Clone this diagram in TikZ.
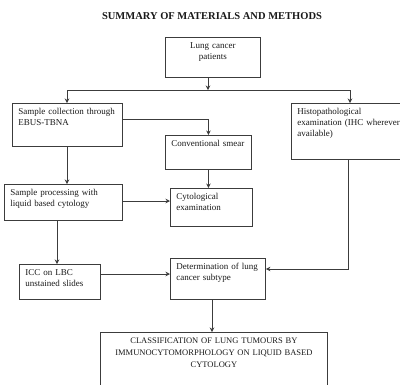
\documentclass[tikz,border=0pt]{standalone}
\usepackage{fontspec}
\setmainfont{Liberation Serif}
\usepackage{tikz}
\usetikzlibrary{arrows.meta,positioning}
\definecolor{boxgray}{RGB}{60,60,60}
\definecolor{inkblack}{RGB}{25,25,25}
\tikzset{
  stage/.style={draw=boxgray,line width=0.9pt,anchor=north west,
    align=left,inner xsep=6pt,inner ysep=5pt,text height=6.5pt,
    text=inkblack,font=\fontsize{9}{11}\selectfont},
  centred/.style={stage,align=center},
  flow/.style={-{Stealth[length=4.5pt,width=4.5pt]},line width=0.9pt,draw=boxgray},
  heading/.style={font=\fontsize{10.5}{12}\selectfont\bfseries,text=inkblack}
}

\begin{document}
\begin{tikzpicture}[x=1pt,y=-1pt]
  \useasboundingbox (0,0) rectangle (400,384);
  \clip (0,0) rectangle (400,384);

  \node[heading] (title) at (212,16) {SUMMARY OF MATERIALS AND METHODS};

  \node[centred,minimum width=95pt,text width=83pt,text depth=23.5pt]
    (lung) at (165,37) {Lung cancer\\patients};
  \node[stage,minimum width=110pt,text width=98pt,text depth=26.5pt]
    (coll) at (12,103) {Sample collection through\\EBUS-TBNA};
  \node[stage,minimum width=120pt,text width=108pt,text depth=39.5pt]
    (histo) at (291,103) {Histopathological\\examination (IHC wherever\\available)};
  \node[stage,minimum width=86pt,text width=74pt,text depth=17.5pt]
    (smear) at (165,135) {Conventional smear};
  \node[stage,minimum width=118pt,text width=106pt,text depth=19.5pt]
    (proc) at (4,184) {Sample processing with\\liquid based cytology};
  \node[stage,minimum width=82pt,text width=70pt,text depth=21.5pt]
    (cyto) at (170,188) {Cytological\\examination};
  \node[stage,minimum width=81pt,text width=69pt,text depth=18.5pt]
    (icc) at (19,264) {ICC on LBC\\unstained slides};
  \node[stage,minimum width=95pt,text width=83pt,text depth=24.5pt]
    (det) at (170,258) {Determination of lung\\cancer subtype};
  \node[centred,minimum width=227pt,text width=215pt,text depth=75pt,
    font=\fontsize{8.5}{12}\selectfont]
    (cls) at (100,332) {CLASSIFICATION OF LUNG TUMOURS BY\\
      IMMUNOCYTOMORPHOLOGY ON LIQUID BASED\\CYTOLOGY};

  % split under the first box
  \coordinate (split) at (208,90);
  \draw[flow] (lung.south -| split) -- (split);
  \draw[flow] (split) -| ([xshift=55pt]coll.north west);
  \draw[flow] (split) -| ([xshift=59pt]histo.north west);

  \draw[flow] ([yshift=-16pt]coll.north east) -| (smear.north);
  \draw[flow] ([xshift=55pt]coll.south west) -- ([xshift=63pt]proc.north west);
  \draw[flow] (smear.south) -- (smear.south |- cyto.north);
  \draw[flow] ([yshift=-17pt]proc.north east) -- ([yshift=-17pt]proc.north east -| cyto.west);
  \draw[flow] ([xshift=53pt]proc.south west) -- ([xshift=53pt]proc.south west |- icc.north);
  \draw[flow] ([yshift=-10pt]icc.north east) -- ([yshift=-10pt]icc.north east -| det.west);
  \draw[flow] ([xshift=57pt]histo.south west) |- ([yshift=-11pt]det.north east);
  \draw[flow] ([xshift=42pt]det.south west) -- ([xshift=42pt]det.south west |- cls.north);
\end{tikzpicture}
\end{document}
